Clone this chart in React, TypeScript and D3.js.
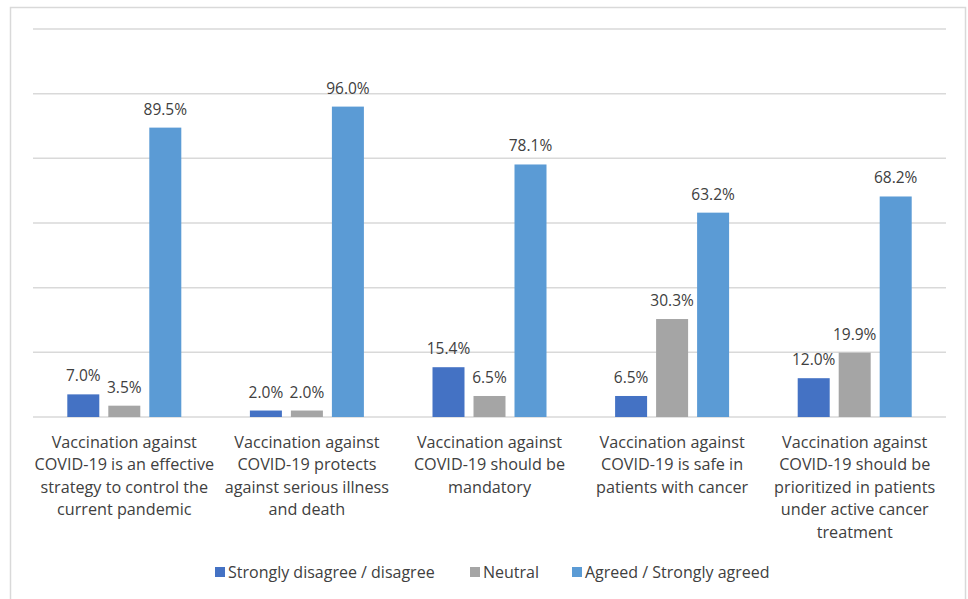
import React from "react";
import * as d3 from "d3";

const categories: string[][] = [
  ["Vaccination against", "COVID-19 is an effective", "strategy to control the", "current pandemic"],
  ["Vaccination against", "COVID-19 protects", "against serious illness", "and death"],
  ["Vaccination against", "COVID-19 should be", "mandatory"],
  ["Vaccination against", "COVID-19 is safe in", "patients with cancer"],
  ["Vaccination against", "COVID-19 should be", "prioritized in patients", "under active cancer", "treatment"],
];
const seriesNames = ["Strongly disagree / disagree", "Neutral", "Agreed / Strongly agreed"];
const disagree = [7.0, 2.0, 15.4, 6.5, 12.0];
const neutral = [3.5, 2.0, 6.5, 30.3, 19.9];
const agreed = [89.5, 96.0, 78.1, 63.2, 68.2];
const yTicks = [0, 20, 40, 60, 80, 100, 120];

const colors = ["#4472C4", "#A5A5A5", "#5B9BD5"];
const W = 968, H = 599;
const font = "'Open Sans', 'Liberation Sans', sans-serif";
const textColor = "#404040";

export default function App() {
  const series = [disagree, neutral, agreed];
  const x0 = d3.scaleBand<number>().domain(d3.range(categories.length)).range([33, 946]);
  const barW = 32, gap = 9;
  const groupW = barW * 3 + gap * 2;
  const y = d3.scaleLinear().domain([0, 120]).range([417, 29]);

  const legendX = [215, 470, 572];

  return (
    <svg width={W} height={H} style={{ position: "absolute", left: 0, top: 0, background: "#fff" }}>
      <rect x={0} y={0} width={W} height={H} fill="#fff" />
      <path d={`M10.5,${H} L10.5,7.5 L965.5,7.5 L965.5,${H}`} fill="none" stroke="#d9d9d9" strokeWidth={1.5} />
      {yTicks.map((t) => (
        <line key={t} x1={33} x2={946} y1={y(t)} y2={y(t)} stroke="#d9d9d9" strokeWidth={1.5} />
      ))}
      {categories.map((_, i) => {
        const gx = (x0(i) as number) + x0.bandwidth() / 2 - groupW / 2;
        return (
          <g key={i}>
            {series.map((s, j) => {
              const bx = gx + j * (barW + gap);
              return (
                <g key={j}>
                  <rect x={bx} y={y(s[i])} width={barW} height={y(0) - y(s[i])} fill={colors[j]} />
                  <text
                    x={bx + barW / 2}
                    y={y(s[i]) - 13}
                    textAnchor="middle"
                    fontFamily={font}
                    fontSize={15.5}
                    fill={textColor}
                  >
                    {s[i].toFixed(1) + "%"}
                  </text>
                </g>
              );
            })}
            {categories[i].map((line, k) => (
              <text
                key={k}
                x={(x0(i) as number) + x0.bandwidth() / 2}
                y={448 + k * 22.4}
                textAnchor="middle"
                fontFamily={font}
                fontSize={16.2}
                fill={textColor}
              >
                {line}
              </text>
            ))}
          </g>
        );
      })}
      {seriesNames.map((n, j) => (
        <g key={n}>
          <rect x={legendX[j]} y={567} width={10} height={10} fill={colors[j]} />
          <text x={legendX[j] + 13} y={577.5} fontFamily={font} fontSize={16} fill={textColor}>
            {n}
          </text>
        </g>
      ))}
    </svg>
  );
}
